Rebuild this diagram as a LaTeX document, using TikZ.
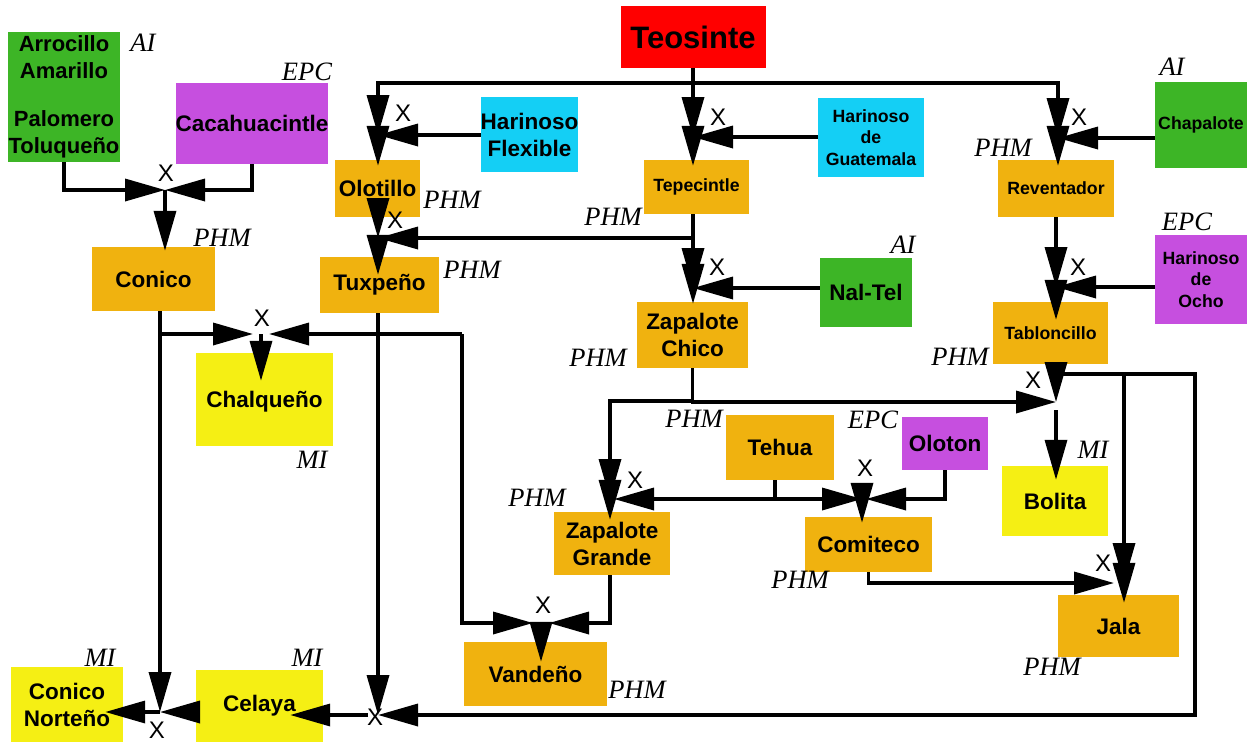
\documentclass[tikz,border=0pt]{standalone}
\usepackage{fontspec}
\setmainfont{Liberation Sans}
\newfontfamily\tnr{Liberation Serif}
\usetikzlibrary{arrows.meta,calc}
\definecolor{cor}{HTML}{F0B20F}
\definecolor{cye}{HTML}{F5EF14}
\definecolor{cgr}{HTML}{3DB526}
\definecolor{cpu}{HTML}{C64FDF}
\definecolor{ccy}{HTML}{14CFF5}
\definecolor{cre}{HTML}{FF0000}
\begin{document}
\begin{tikzpicture}[x=1pt,y=-1pt,
  big/.style={font=\bfseries\fontsize{22.5}{27}\selectfont},
  sml/.style={font=\bfseries\fontsize{17.7}{21.5}\selectfont},
  box/.style={draw=none,inner sep=0pt,align=center},
  lab/.style={font=\tnr\itshape\fontsize{26.5}{27}\selectfont,inner sep=0pt},
  xl/.style={font=\fontsize{24}{24}\selectfont,inner sep=0pt},
  ln/.style={line width=3.5pt},
  arr/.style={ln,-{Triangle[length=40pt,width=22pt]}},
]
\useasboundingbox (0,0) rectangle (1247,742);
% boxes
\node[box,fill=cre,minimum width=145pt,minimum height=62pt,font=\bfseries\fontsize{31}{31}\selectfont] (teo) at (693,37) {Teosinte};
\node[box,fill=cgr,minimum width=112pt,minimum height=130pt,font=\bfseries\fontsize{22}{26.5}\selectfont] (arro) at (64,97) {Arrocillo\\Amarillo\\[22pt]Palomero\\Toluqueño};
\node[box,big,fill=cpu,minimum width=150pt,minimum height=81pt] (caca) at (252,123.5) {Cacahuacintle};
\node[box,big,fill=ccy,minimum width=97pt,minimum height=75pt] (flex) at (529.5,134.5) {Harinoso\\Flexible};
\node[box,sml,fill=ccy,minimum width=106pt,minimum height=79pt] (guat) at (871,137.5) {Harinoso\\de\\Guatemala};
\node[box,sml,fill=cgr,minimum width=92pt,minimum height=86pt] (chap) at (1201,125) {Chapalote};
\node[box,big,fill=cor,minimum width=85pt,minimum height=57pt] (olot) at (377.5,188.5) {Olotillo};
\node[box,sml,fill=cor,minimum width=105pt,minimum height=54pt] (tepe) at (696.5,187) {Tepecintle};
\node[box,sml,fill=cor,minimum width=116pt,minimum height=57pt] (reve) at (1056,188.5) {Reventador};
\node[box,big,fill=cor,minimum width=123pt,minimum height=64pt] (coni) at (153.5,279) {Conico};
\node[box,big,fill=cor,minimum width=119pt,minimum height=56pt] (tuxp) at (379.5,285) {Tuxpeño};
\node[box,big,fill=cgr,minimum width=92pt,minimum height=69pt] (nalt) at (866,292.5) {Nal-Tel};
\node[box,sml,fill=cpu,minimum width=92pt,minimum height=89pt] (hoch) at (1201,279.5) {Harinoso\\de\\Ocho};
\node[box,big,fill=cor,minimum width=111pt,minimum height=66pt] (zchi) at (692.5,335) {Zapalote\\Chico};
\node[box,sml,fill=cor,minimum width=115pt,minimum height=62pt] (tabl) at (1050.5,333) {Tabloncillo};
\node[box,big,fill=cye,minimum width=137pt,minimum height=93pt,text depth=-8pt] (chal) at (264.5,399.5) {Chalqueño};
\node[box,big,fill=cor,minimum width=108pt,minimum height=65pt] (tehu) at (780,447.5) {Tehua};
\node[box,big,fill=cpu,minimum width=86pt,minimum height=53pt] (olotn) at (945,443.5) {Oloton};
\node[box,big,fill=cye,minimum width=106pt,minimum height=70pt] (boli) at (1055,501) {Bolita};
\node[box,big,fill=cor,minimum width=116pt,minimum height=63pt] (zgra) at (612,543.5) {Zapalote\\Grande};
\node[box,big,fill=cor,minimum width=127pt,minimum height=55pt] (comi) at (868.5,544.5) {Comiteco};
\node[box,big,fill=cor,minimum width=121pt,minimum height=62pt] (jala) at (1118.5,626) {Jala};
\node[box,big,fill=cor,minimum width=143pt,minimum height=64pt] (vand) at (535.5,674) {Vandeño};
\node[box,big,fill=cye,minimum width=112pt,minimum height=75pt] (cnor) at (67,704.5) {Conico\\Norteño};
\node[box,big,fill=cye,minimum width=127pt,minimum height=72pt] (cela) at (259.5,706) {Celaya};
% italic labels
\node[lab] (l1) at (143,43) {AI};
\node[lab] (l2) at (307,72) {EPC};
\node[lab] (l3) at (222,238) {PHM};
\node[lab] (l4) at (452,200) {PHM};
\node[lab] (l5) at (613,217) {PHM};
\node[lab] (l6) at (1172,67) {AI};
\node[lab] (l7) at (1003,148) {PHM};
\node[lab] (l8) at (472,270) {PHM};
\node[lab] (l9) at (903,245) {AI};
\node[lab] (l10) at (1187,222) {EPC};
\node[lab] (l11) at (598,358) {PHM};
\node[lab] (l12) at (960,357) {PHM};
\node[lab] (l13) at (312,460) {MI};
\node[lab] (l14) at (694,419) {PHM};
\node[lab] (l15) at (873,420) {EPC};
\node[lab] (l16) at (1093,450) {MI};
\node[lab] (l17) at (537,498) {PHM};
\node[lab] (l18) at (800,580) {PHM};
\node[lab] (l19) at (1052,667) {PHM};
\node[lab] (l20) at (637,690) {PHM};
\node[lab] (l21) at (100,658) {MI};
\node[lab] (l22) at (307,658) {MI};
% X labels
\node[xl] (x1) at (166,173) {X};
\node[xl] (x2) at (403,113) {X};
\node[xl] (x3) at (395,220) {X};
\node[xl] (x4) at (718,117) {X};
\node[xl] (x5) at (1079,117) {X};
\node[xl] (x6) at (717,267) {X};
\node[xl] (x7) at (1078,267) {X};
\node[xl] (x8) at (262,318) {X};
\node[xl] (x9) at (1033,380) {X};
\node[xl] (x10) at (635,480) {X};
\node[xl] (x11) at (865,468) {X};
\node[xl] (x12) at (543,605) {X};
\node[xl] (x13) at (1103,563) {X};
\node[xl] (x14) at (375,717) {X};
\node[xl] (x15) at (157,730) {X};
% coordinates
\coordinate (jt) at (693,83);
\coordinate (xOlot) at (378,135);
\coordinate (xTepe) at (693,137);
\coordinate (xReve) at (1058,138);
\coordinate (xConi) at (165,190);
\coordinate (xTux) at (378,238);
\coordinate (xZchi) at (693,288);
\coordinate (xTabl) at (1056,287);
\coordinate (xChal) at (261,334);
\coordinate (tb) at (462,334);
\coordinate (xBoli) at (1056,402);
\coordinate (tl) at (1056,374);
\coordinate (lr) at (1195,715);
\coordinate (zc) at (693,401);
\coordinate (xZgra) at (610,499);
\coordinate (th) at (775,499);
\coordinate (xComi) at (862,499);
\coordinate (xVand) at (541,623);
\coordinate (xJala) at (1124,583);
\coordinate (xCela) at (378,715);
\coordinate (xCnor) at (160,712);
% connectors
\draw[arr] (teo.south) -- (xTepe);
\draw[arr] (jt) -| (xOlot);
\draw[arr] (jt) -| (xReve);
\draw[arr] (flex.west |- xOlot) -- (xOlot);
\draw[arr] (guat.west |- xTepe) -- (xTepe);
\draw[arr] (chap.west |- xReve) -- (xReve);
\draw[arr,shorten >=-6pt] (xOlot) -- (xOlot |- olot.north);
\draw[arr,shorten >=-6pt] (xTepe) -- (xTepe |- tepe.north);
\draw[arr,shorten >=-6pt] (xReve) -- (xReve |- reve.north);
\draw[arr] (arro.south) |- (xConi);
\draw[arr] (caca.south) |- (xConi);
\draw[arr,shorten >=-4pt] (xConi) -- (xConi |- coni.north);
\draw[arr] (xOlot |- olot.south) -- (xTux);
\draw[arr] (xTepe |- tepe.south) |- (xTux);
\draw[arr,shorten >=-18pt] (xTux) -- (xTux |- tuxp.north);
\draw[arr] (xTepe |- tepe.south) -- (xZchi);
\draw[arr] (nalt.west |- xZchi) -- (xZchi);
\draw[arr,shorten >=-2pt] (xZchi) -- (xZchi |- zchi.north);
\draw[arr] (xTabl |- reve.south) -- (xTabl);
\draw[arr] (hoch.west |- xTabl) -- (xTabl);
\draw[arr,shorten >=-18pt] (xTabl) -- (xTabl |- tabl.north);
\draw[arr] (xCnor |- coni.south) -- (xCnor);
\draw[arr,shorten >=8pt] (xCnor |- xChal) -- (xChal);
\draw[arr] (xCela |- tuxp.south) -- (xCela);
\draw[arr,shorten >=8pt] (tb) -- (xChal);
\draw[arr,shorten >=8pt] (tb) |- (xVand);
\draw[arr,shorten >=-28pt] (xChal) -- (xChal |- chal.north);
\draw[arr] (zchi.south) |- (xBoli);
\draw[arr] (zc) -| (xZgra);
\draw[arr] (xBoli |- tabl.south) -- (xBoli);
\draw[arr,shorten >=-14pt] ($(xBoli)+(0,8)$) -- (xBoli |- boli.north);
\draw[arr] (tl) -| (lr) -- (xCela);
\draw[arr] (tl -| xJala) -- (xJala);
\draw[arr,shorten >=10pt] (comi.south) |- (xJala);
\draw[arr,shorten >=-8pt] (xJala) -- (xJala |- jala.north);
\draw[ln] (th |- tehu.south) -- (th);
\draw[arr,shorten >=4pt] (th) -- (xZgra);
\draw[arr] (th) -- (xComi);
\draw[arr,shorten >=4pt] (olotn.south) |- (xComi);
\draw[arr,shorten >=-6pt] (xComi) -- (xComi |- comi.north);
\draw[arr,shorten >=-8pt] (xZgra) -- (xZgra |- zgra.north);
\draw[arr,shorten >=8pt] (xZgra |- zgra.south) |- (xVand);
\draw[arr,shorten >=-20pt] (xVand) -- (xVand |- vand.north);
\draw[arr,shorten >=-33pt] ($(xCela)+(-10,0)$) -- (xCela -| cela.east);
\draw[arr] (cela.west |- xCnor) -- (xCnor);
\draw[arr,shorten >=-18pt] (xCnor) -- (xCnor -| cnor.east);
\end{tikzpicture}
\end{document}
